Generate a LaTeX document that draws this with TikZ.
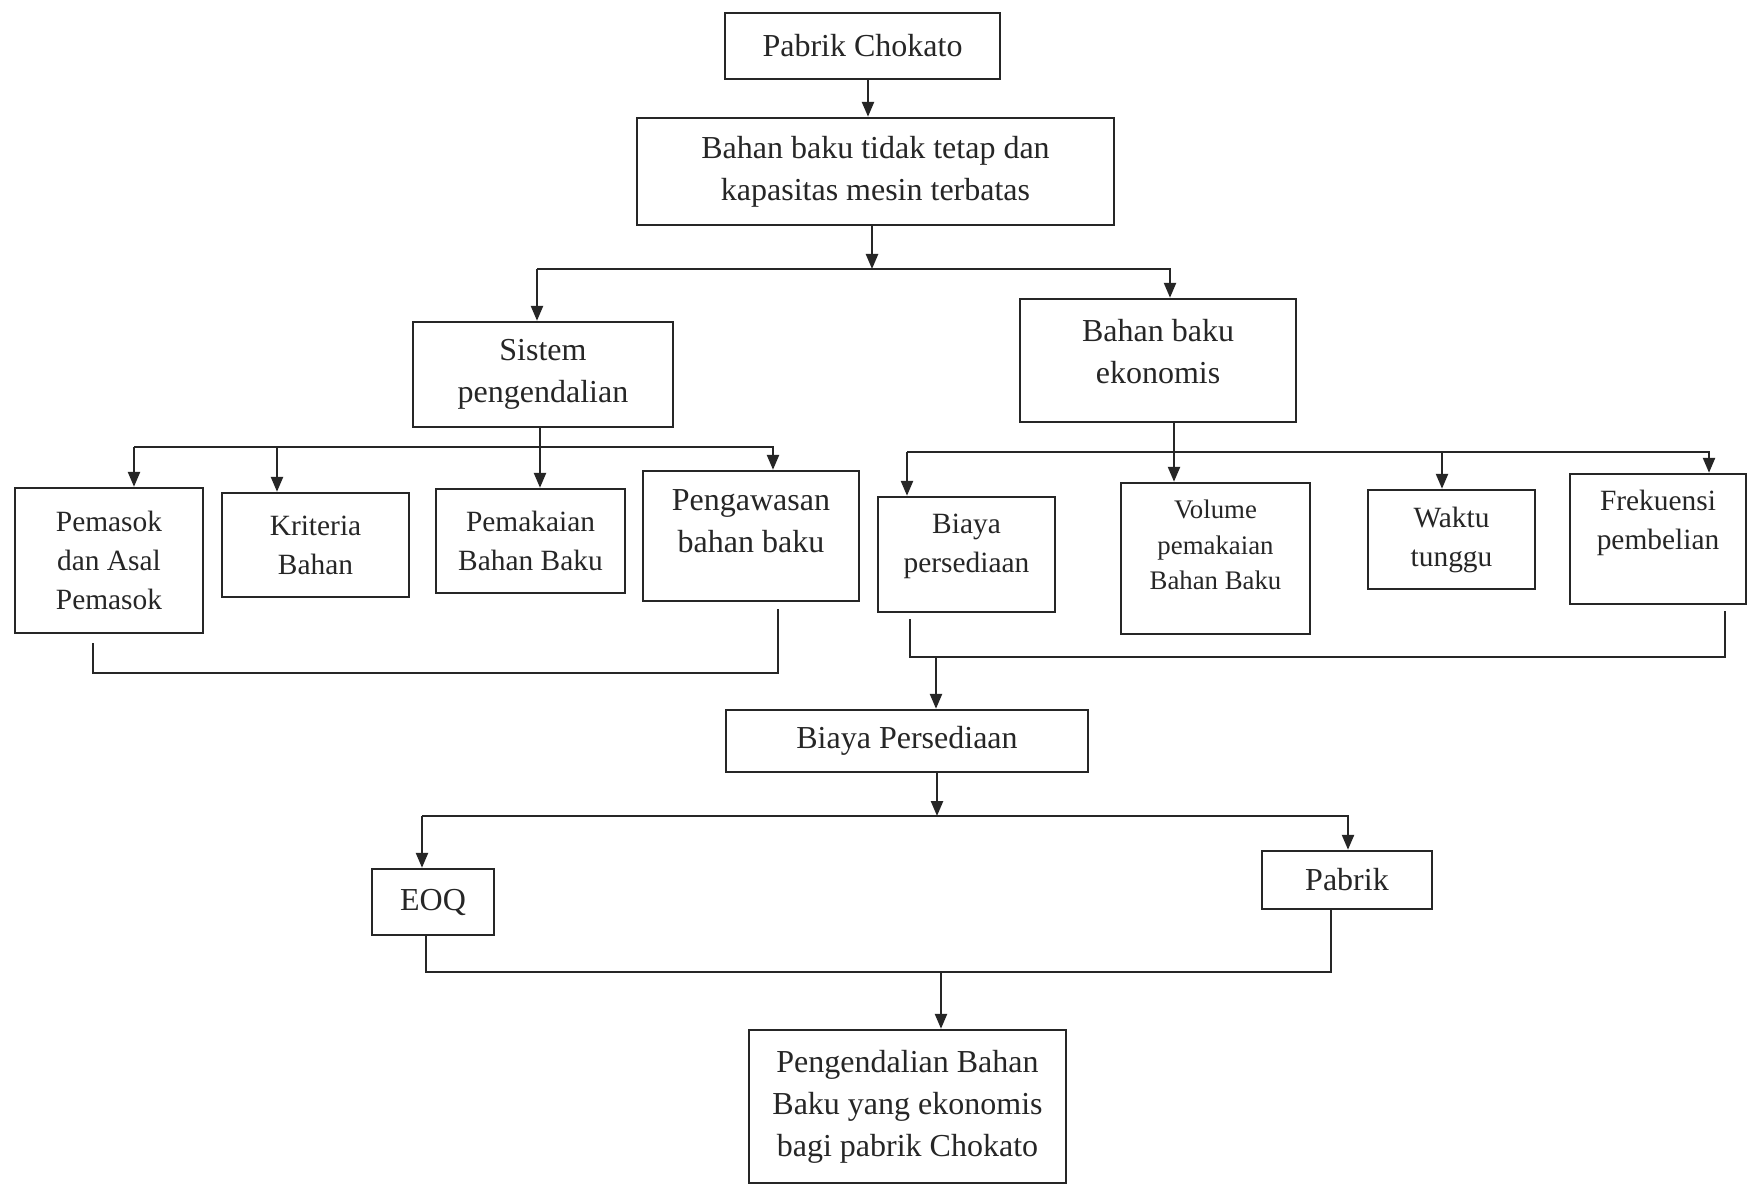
\documentclass[tikz,border=0pt]{standalone}
\usepackage{fontspec}
\setmainfont{Liberation Serif}
\usetikzlibrary{arrows.meta}
\definecolor{ink}{RGB}{38,38,38}
\newcommand\liftbox[2]{\raisebox{0pt}[\height][\dimexpr\depth+#1\relax]{\begin{tabular}{@{}c@{}}#2\end{tabular}}}
\begin{document}
\begin{tikzpicture}[x=0.5pt,y=-0.5pt,
  box/.style={draw=ink, line width=1.2pt, inner sep=0pt, align=center, text=ink, font=\fontsize{16}{21}\selectfont},
  small/.style={font=\fontsize{14.7}{19.5}\selectfont},
  tiny/.style={font=\fontsize{13.4}{17.6}\selectfont},
  sz/.style 2 args={minimum width=#1*0.5pt, minimum height=#2*0.5pt},
  arr/.style={draw=ink, line width=1.2pt, -{Triangle[length=7.5pt,width=6pt]}},
  ln/.style={draw=ink, line width=1.2pt}]
\fill[white] (0,0) rectangle (1750,1186);
\useasboundingbox (0,0) rectangle (1750,1186);

% boxes
\node[box,sz={275}{66}] (top) at (862.5,46) {Pabrik Chokato};
\node[box,sz={477}{107}] (box2) at (875.5,171.5) {Bahan baku tidak tetap dan\\kapasitas mesin terbatas};
\node[box,sz={260}{105}] (sistem) at (543,374.5) {Sistem\\pengendalian};
\node[box,sz={276}{123}] (bbe) at (1158,360.5) {\liftbox{6pt}{Bahan baku\\ekonomis}};

\node[box,small,sz={188}{145}] (pemasok) at (109,560.5) {Pemasok\\dan Asal\\Pemasok};
\node[box,small,sz={187}{104}] (kriteria) at (315.5,545) {Kriteria\\Bahan};
\node[box,small,sz={189}{104}] (pemakaian) at (530.5,541) {Pemakaian\\Bahan Baku};
\node[box,sz={216}{130}] (pengawasan) at (751,536) {\liftbox{12.5pt}{Pengawasan\\bahan baku}};

\node[box,small,sz={177}{115}] (biaya) at (966.5,554.5) {\liftbox{9.5pt}{Biaya\\persediaan}};
\node[box,tiny,sz={189}{151}] (volume) at (1215.5,558.5) {\liftbox{11.5pt}{Volume\\pemakaian\\Bahan Baku}};
\node[box,small,sz={167}{99}] (waktu) at (1451.5,539.5) {Waktu\\tunggu};
\node[box,small,sz={176}{130}] (frek) at (1658,539) {\liftbox{17pt}{Frekuensi\\pembelian}};

\node[box,sz={362}{62}] (bp) at (907,741) {Biaya Persediaan};
\node[box,sz={122}{66}] (eoq) at (433,902) {EOQ};
\node[box,sz={170}{58}] (pabrik) at (1347,880) {Pabrik};
\node[box,sz={317}{153}] (final) at (907.5,1106.5) {Pengendalian Bahan\\Baku yang ekonomis\\bagi pabrik Chokato};

% junction coordinates
\coordinate (a1) at (868,0);
\coordinate (b0) at (872,269);
\coordinate (bl) at (537,269);
\coordinate (br) at (1170,269);
\coordinate (c1) at (134,447);
\coordinate (c2) at (277,447);
\coordinate (c3) at (540,447);
\coordinate (c4) at (773,447);
\coordinate (d1) at (907,452);
\coordinate (d2) at (1174,452);
\coordinate (d3) at (1442,452);
\coordinate (d4) at (1709,452);
\coordinate (e1) at (93,673);
\coordinate (e2) at (778,673);
\coordinate (f1) at (910,657);
\coordinate (f2) at (1725,657);
\coordinate (fa) at (936,657);
\coordinate (g0) at (937,816);
\coordinate (gl) at (422,816);
\coordinate (gr) at (1348,816);
\coordinate (h1) at (426,972);
\coordinate (h2) at (1331,972);
\coordinate (ha) at (941,972);

% connectors
\draw[arr] (top.south -| a1) -- (box2.north -| a1);
\draw[arr] (box2.south -| b0) -- (b0);
\draw[arr] (bl) -- (sistem.north -| bl);
\draw[arr] (bl) -- (br) -- (bbe.north -| br);

\draw[arr] (sistem.south -| c3) -- (pemakaian.north -| c3);
\draw[arr] (c1) -- (pemasok.north -| c1);
\draw[arr] (c1) -- (c4) -- (pengawasan.north -| c4);
\draw[arr] (c2) -- (kriteria.north -| c2);

\draw[arr] (bbe.south -| d2) -- (volume.north -| d2);
\draw[arr] (d1) -- (biaya.north -| d1);
\draw[arr] (d1) -- (d4) -- (frek.north -| d4);
\draw[arr] (d3) -- (waktu.north -| d3);

\draw[ln, shorten <=4.5pt, shorten >=3.5pt] (pemasok.south -| e1) -- (e1) -- (e2) -- (pengawasan.south -| e2);
\draw[ln, shorten <=3pt, shorten >=3pt] (biaya.south -| f1) -- (f1) -- (f2) -- (frek.south -| f2);
\draw[arr] (fa) -- (bp.north -| fa);

\draw[arr] (bp.south -| g0) -- (g0);
\draw[arr] (gl) -- (eoq.north -| gl);
\draw[arr] (gl) -- (gr) -- (pabrik.north -| gr);

\draw[ln] (eoq.south -| h1) -- (h1) -- (h2) -- (pabrik.south -| h2);
\draw[arr] (ha) -- (final.north -| ha);
\end{tikzpicture}
\end{document}
